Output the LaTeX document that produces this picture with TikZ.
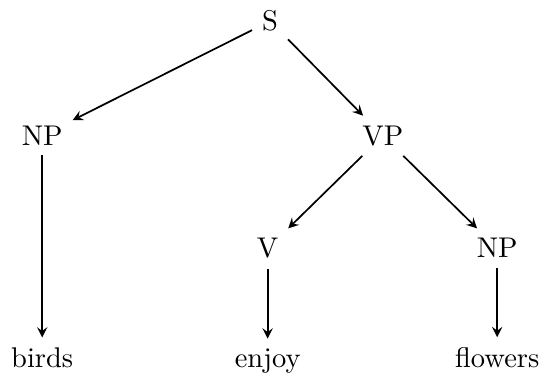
\documentclass[tikz,border=0pt]{standalone}
\usepackage{amsmath}
\usepackage{tikz}
\usetikzlibrary{arrows}
\usetikzlibrary{positioning}
\begin{document}
\begin{tikzpicture}
     \useasboundingbox (0,0) rectangle (6.67,-4.62);
     % Knoten
     \node[anchor=base] (s)   at (3.33,-0.38) {S};
     \node[anchor=base] (np1) at (0.52,-1.79) {NP};
     \node[anchor=base] (vp)  at (4.72,-1.79) {VP};
     \node[anchor=base] (v)   at (3.30,-3.18) {V};
     \node[anchor=base] (np2) at (6.13,-3.18) {NP};
     \node[anchor=base] (birds)   at (0.52,-4.53) {birds};
     \node[anchor=base] (enjoy)   at (3.30,-4.53) {enjoy};
     \node[anchor=base] (flowers) at (6.13,-4.53) {flowers};

     % Kanten
     \foreach \von/\nach in {s/np1,s/vp,np1/birds,vp/v,vp/np2,v/enjoy,np2/flowers}
     {
       \draw[-stealth,semithick] (\von) -- (\nach);
     }
   \end{tikzpicture}
\end{document}
